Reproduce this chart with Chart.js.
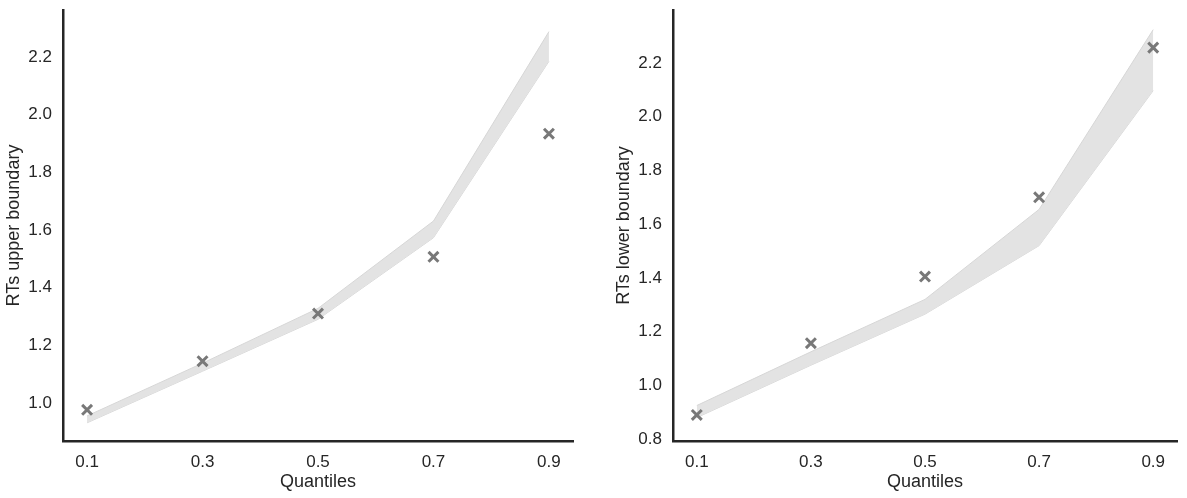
<!DOCTYPE html>
<html>
<head>
<meta charset="utf-8">
<script src="https://cdn.jsdelivr.net/npm/chart.js@4.4.0/dist/chart.umd.min.js"></script>
<style>
  body { margin: 0; background: #fff; }
  #wrap { position: relative; width: 1187px; height: 498px; }
  canvas { position: absolute; top: 0; }
</style>
</head>
<body>
<div id="wrap">
  <canvas id="upperChart" width="595" height="498" style="left:0px"></canvas>
  <canvas id="lowerChart" width="577" height="498" style="left:610px"></canvas>
</div>
<script>
// quantiles on the x axis
const quantiles = [0.1, 0.3, 0.5, 0.7, 0.9];

// upper boundary: observed points and predicted band
const upperObs = [0.976, 1.145, 1.31, 1.507, 1.934];
const upperBandHi = [0.955, 1.138, 1.328, 1.631, 2.288];
const upperBandLo = [0.931, 1.11, 1.29, 1.573, 2.185];

// lower boundary: observed points and predicted band
const lowerObs = [0.89, 1.157, 1.405, 1.70, 2.257];
const lowerBandHi = [0.925, 1.125, 1.32, 1.655, 2.324];
const lowerBandLo = [0.88, 1.075, 1.265, 1.52, 2.097];

const upperTicks = [1.0, 1.2, 1.4, 1.6, 1.8, 2.0, 2.2];
const lowerTicks = [0.8, 1.0, 1.2, 1.4, 1.6, 1.8, 2.0, 2.2];

const fontFam = "'Liberation Sans', Arial, sans-serif";
const ink = '#262626';

function pts(ys) {
    return quantiles.map(function (q, i) { return { x: q, y: ys[i] }; });
}

function makeChart(id, obs, hi, lo, yTicks, yMin, yMax, yTitle, padRight) {
    const ctx = document.getElementById(id).getContext('2d');
    return new Chart(ctx, {
        type: 'line',
        data: {
            datasets: [
                {
                    data: pts(obs),
                    showLine: false,
                    pointStyle: 'crossRot',
                    pointRadius: 7,
                    pointBorderWidth: 3,
                    pointBorderColor: '#787878',
                    borderColor: '#787878',
                    order: 0
                },
                {
                    data: pts(hi),
                    borderColor: '#d6d6d6',
                    borderWidth: 1,
                    backgroundColor: '#e3e3e3',
                    pointRadius: 0,
                    fill: '+1',
                    tension: 0,
                    order: 1
                },
                {
                    data: pts(lo),
                    borderColor: '#d6d6d6',
                    borderWidth: 1,
                    pointRadius: 0,
                    fill: false,
                    tension: 0,
                    order: 1
                }
            ]
        },
        options: {
            responsive: false,
            animation: false,
            layout: { padding: { top: 5, right: padRight, left: 0, bottom: 0 } },
            plugins: {
                legend: { display: false },
                tooltip: { enabled: false }
            },
            scales: {
                x: {
                    type: 'linear',
                    min: 0.0583,
                    max: 0.9417,
                    afterBuildTicks: function (scale) {
                        scale.ticks = quantiles.map(function (v) { return { value: v }; });
                    },
                    afterFit: function (scale) {
                        scale.height = 57;
                        scale.paddingLeft = 0;
                        scale.paddingRight = 0;
                    },
                    grid: { display: false, drawTicks: false },
                    border: { display: true, color: ink, width: 2.5 },
                    ticks: {
                        padding: 11,
                        color: ink,
                        font: { family: fontFam, size: 17 },
                        callback: function (v) { return v.toFixed(1); }
                    },
                    title: {
                        display: true,
                        text: 'Quantiles',
                        color: ink,
                        padding: { top: 0, bottom: 5 },
                        font: { family: fontFam, size: 18 }
                    }
                },
                y: {
                    min: yMin,
                    max: yMax,
                    afterBuildTicks: function (scale) {
                        scale.ticks = yTicks.map(function (v) { return { value: v }; });
                    },
                    afterFit: function (scale) {
                        scale.width = 63;
                        // no extra room for half tick labels at the ends
                        scale.paddingTop = 0;
                        scale.paddingBottom = 0;
                    },
                    grid: { display: false, drawTicks: false },
                    border: { display: true, color: ink, width: 2.5 },
                    ticks: {
                        padding: 11,
                        color: ink,
                        font: { family: fontFam, size: 17 },
                        callback: function (v) { return v.toFixed(1); }
                    },
                    title: {
                        display: true,
                        text: yTitle,
                        color: ink,
                        padding: { top: 3, bottom: 0 },
                        font: { family: fontFam, size: 18 }
                    }
                }
            }
        }
    });
}

makeChart('upperChart', upperObs, upperBandHi, upperBandLo, upperTicks, 0.868, 2.363, 'RTs upper boundary', 22);
makeChart('lowerChart', lowerObs, lowerBandHi, lowerBandLo, lowerTicks, 0.793, 2.397, 'RTs lower boundary', 7);
</script>
</body>
</html>
